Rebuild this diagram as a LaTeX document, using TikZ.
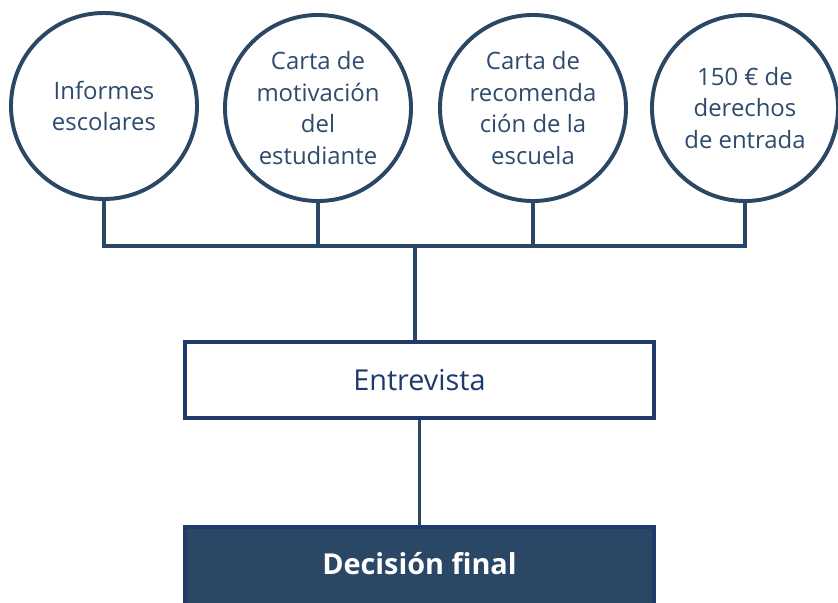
\documentclass[tikz,border=0pt]{standalone}
\usepackage{fontspec}
\setmainfont{Open Sans}
\usetikzlibrary{positioning}
\definecolor{navy}{HTML}{2B4766}
\definecolor{boxblue}{HTML}{1F3A6B}
\definecolor{txtblue}{HTML}{2E4A6C}
\tikzset{
  req/.style={circle,draw=navy,line width=2.8pt,minimum size=4.65cm,inner sep=0pt,
    align=center,text=txtblue,font=\fontsize{17}{22.7}\selectfont},
  stagebox/.style={rectangle,draw=boxblue,line width=2.8pt,fill=white,minimum width=11.73cm,
    minimum height=1.9cm,text=boxblue,font=\fontsize{20.5}{24}\selectfont},
  finalbox/.style={rectangle,draw=boxblue,line width=2.8pt,fill=navy,minimum width=11.73cm,
    minimum height=2.15cm},
  finaltext/.style={text=white,font=\fontsize{20.5}{24}\selectfont\bfseries},
  bus/.style={draw=navy,line width=2.4pt},
  link/.style={draw=navy,line width=2.1pt}
}
\begin{document}
\begin{tikzpicture}[x=0.025cm,y=-0.025cm]
\useasboundingbox (0,0) rectangle (838,603);
% requisitos
\node[req] (c1) at (104,106) {Informes\\escolares};
\node[req] (c2) at (318,108) {Carta de\\motivación\\del\\estudiante};
\node[req] (c3) at (533,108) {Carta de\\recomenda\\ción de la\\escuela};
\node[req] (c4) at (745,108) {150 € de\\derechos\\de entrada};
% etapas
\node[stagebox] (entrevista) at (419.5,380) {Entrevista};
\node[finalbox] (decision) at (419.5,570) {};
\node[finaltext] (decisiontext) at (419.5,564) {Decisión final};
% conexiones
\coordinate (bus) at (415,246);
\draw[bus] (c1.south) |- (bus) -| (c4.south);
\foreach \c in {c2,c3}{
\draw[bus] (\c.south) -- (\c.south |- bus);}
\draw[bus] (bus) -- (entrevista.north -| bus);
\draw[link] (entrevista) -- (decision);
\end{tikzpicture}
\end{document}
